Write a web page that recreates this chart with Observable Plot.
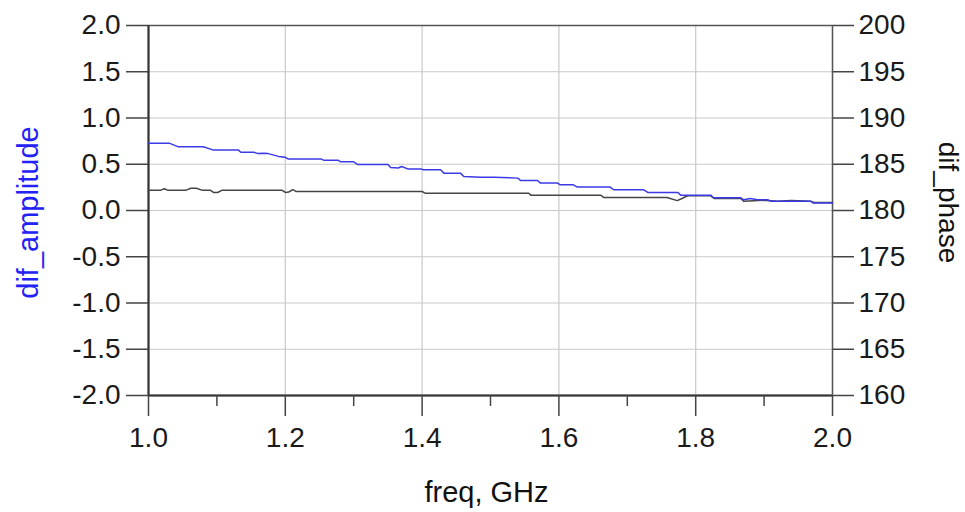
<!DOCTYPE html>
<html>
<head>
<meta charset="utf-8">
<script src="https://cdn.jsdelivr.net/npm/d3@7"></script>
<script src="https://cdn.jsdelivr.net/npm/@observablehq/plot@0.6"></script>
<style>
  html, body { margin: 0; padding: 0; background: #fff; }
</style>
</head>
<body>
<div id="chart"></div>
<script>
// frequency (GHz) and dif_amplitude (left axis)
const ampFreq = [1.000,1.030,1.043,1.080,1.094,1.131,1.135,1.154,1.160,1.168,1.175,1.190,1.200,1.204,1.252,1.256,1.277,1.281,1.300,1.306,1.350,1.354,1.365,1.370,1.379,1.398,1.402,1.427,1.432,1.456,1.461,1.486,1.505,1.540,1.544,1.569,1.573,1.598,1.602,1.621,1.627,1.675,1.680,1.724,1.730,1.774,1.778,1.822,1.826,1.866,1.870,1.880,1.890,1.905,1.910,1.968,1.972,2.000];
const ampValues = [0.728,0.728,0.69,0.69,0.655,0.655,0.63,0.63,0.615,0.62,0.615,0.585,0.575,0.558,0.558,0.544,0.544,0.526,0.526,0.497,0.497,0.465,0.46,0.475,0.45,0.45,0.44,0.44,0.404,0.404,0.368,0.36,0.36,0.35,0.324,0.324,0.296,0.296,0.278,0.278,0.253,0.253,0.224,0.224,0.195,0.195,0.166,0.166,0.137,0.137,0.116,0.13,0.116,0.116,0.10,0.10,0.08,0.08];

// frequency (GHz) and dif_phase (right axis, degrees)
const phaseFreq = [1.000,1.018,1.023,1.028,1.055,1.062,1.070,1.078,1.090,1.095,1.101,1.108,1.195,1.200,1.205,1.211,1.216,1.400,1.405,1.556,1.559,1.661,1.666,1.758,1.773,1.780,1.788,1.822,1.827,1.866,1.870,1.900,1.920,1.940,1.968,1.973,2.000];
const phaseValues = [182.2,182.2,182.35,182.2,182.2,182.4,182.4,182.2,182.2,181.95,181.95,182.2,182.2,181.95,182.0,182.25,182.05,182.05,181.86,181.86,181.66,181.66,181.4,181.4,181.07,181.3,181.59,181.59,181.3,181.3,181.0,181.1,181.0,181.08,181.0,180.87,180.87];

// axis ticks
const xTicks = [1.0,1.2,1.4,1.6,1.8,2.0];
const xMinorTicks = [1.1,1.3,1.5,1.7,1.9];
const ampTicks = [-2.0,-1.5,-1.0,-0.5,0.0,0.5,1.0,1.5,2.0];
const phaseTicks = [160,165,170,175,180,185,190,195,200];

// phase axis (160..200) is aligned with amplitude axis (-2..2)
const phaseToAmp = p => (p - 180) / 10;

const ampData = ampFreq.map((f, i) => ({freq: f, value: ampValues[i]}));
const phaseData = phaseFreq.map((f, i) => ({freq: f, value: phaseToAmp(phaseValues[i])}));

const chart = Plot.plot({
  width: 965,
  height: 512,
  marginLeft: 148,
  marginRight: 133,
  marginTop: 25,
  marginBottom: 117,
  style: {fontFamily: "'Liberation Sans', Arial, sans-serif", fontSize: "28px", background: "#fff", color: "#1a1a1a"},
  x: {domain: [1, 2]},
  y: {domain: [-2, 2]},
  marks: [
    Plot.gridX(xTicks, {stroke: "#c9c9c9", strokeOpacity: 1, strokeWidth: 1.2}),
    Plot.gridY(ampTicks, {stroke: "#c9c9c9", strokeOpacity: 1, strokeWidth: 1.2}),
    Plot.frame({stroke: "#555", strokeWidth: 1.5}),
    Plot.ruleX([1], {stroke: "#333", strokeWidth: 2}),
    Plot.ruleY([-2], {stroke: "#333", strokeWidth: 2}),
    Plot.axisX(xTicks, {tickSize: 21, tickPadding: 11, tickFormat: d => d.toFixed(1), label: null, strokeWidth: 1.5, stroke: "#444"}),
    Plot.axisX(xMinorTicks, {tickSize: 11, tickFormat: () => "", label: null, strokeWidth: 1.5, stroke: "#444"}),
    Plot.axisY(ampTicks, {anchor: "left", tickSize: 22, tickPadding: 6, tickFormat: d => d.toFixed(1), label: null, strokeWidth: 1.5, stroke: "#444"}),
    Plot.axisY(phaseTicks.map(phaseToAmp), {anchor: "right", tickSize: 21, tickPadding: 5, tickFormat: d => String(Math.round(180 + d * 10)), label: null, strokeWidth: 1.5, stroke: "#444"}),
    Plot.line(phaseData, {x: "freq", y: "value", stroke: "#444", strokeWidth: 1.5}),
    Plot.line(ampData, {x: "freq", y: "value", stroke: "#3b3be6", strokeWidth: 1.5}),
    Plot.text(["dif_amplitude"], {frameAnchor: "left", textAnchor: "middle", lineAnchor: "middle", dx: -120, dy: 2, rotate: -90, fill: "#2222f5", fontSize: 29}),
    Plot.text(["dif_phase"], {frameAnchor: "right", textAnchor: "middle", lineAnchor: "middle", dx: 115, dy: -8, rotate: 90, fill: "#111", fontSize: 28}),
    Plot.text(["freq, GHz"], {frameAnchor: "bottom", textAnchor: "middle", lineAnchor: "top", dx: -4, dy: 86, fill: "#111", fontSize: 29})
  ]
});
document.getElementById("chart").appendChild(chart);
</script>
</body>
</html>
